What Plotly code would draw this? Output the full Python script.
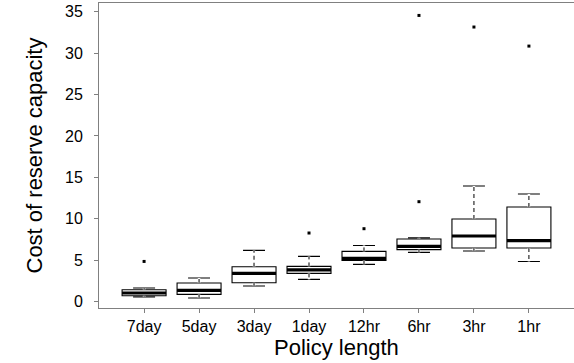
import plotly.graph_objects as go

categories = ["7day", "5day", "3day", "1day", "12hr", "6hr", "3hr", "1hr"]
lower_whisker = [0.57, 0.45, 1.89, 2.69, 4.50, 5.95, 6.12, 4.86]
q1_vals = [0.72, 0.88, 2.29, 3.42, 4.98, 6.28, 6.48, 6.48]
median_vals = [1.05, 1.37, 3.42, 3.83, 5.23, 6.68, 7.93, 7.36]
q3_vals = [1.45, 2.26, 4.22, 4.26, 6.07, 7.57, 9.98, 11.43]
upper_whisker = [1.65, 2.86, 6.19, 5.47, 6.79, 7.72, 13.96, 13.00]
outliers = [[4.86], [], [], [8.29], [8.81], [34.55, 12.07], [33.15], [30.85]]
y_ticks = [0, 5, 10, 15, 20, 25, 30, 35]

positions = list(range(1, len(categories) + 1))
BOX_W = 0.8
FONT = "Liberation Sans, Arial, sans-serif"
AXIS_GRAY = "#808080"

fig = go.Figure()

fig.add_trace(go.Box(
    x=positions, q1=q1_vals, median=median_vals, q3=q3_vals,
    lowerfence=lower_whisker, upperfence=upper_whisker,
    width=BOX_W, whiskerwidth=0.5, boxpoints=False,
    fillcolor="white", line=dict(color="black", width=1.1),
    showlegend=False, hoverinfo="skip",
))

# dashed whiskers (cover the solid ones)
wx, wy = [], []
for p, lo, a, b, hi in zip(positions, lower_whisker, q1_vals, q3_vals, upper_whisker):
    wx += [p, p, None, p, p, None]
    wy += [b, hi, None, a, lo, None]
fig.add_trace(go.Scatter(x=wx, y=wy, mode="lines",
                         line=dict(color="white", width=2.5),
                         showlegend=False, hoverinfo="skip"))
fig.add_trace(go.Scatter(x=wx, y=wy, mode="lines",
                         line=dict(color="black", width=1, dash="4px,3px"),
                         showlegend=False, hoverinfo="skip"))

# thick medians
mx, my = [], []
for p, m in zip(positions, median_vals):
    mx += [p - BOX_W / 2, p + BOX_W / 2, None]
    my += [m, m, None]
fig.add_trace(go.Scatter(x=mx, y=my, mode="lines",
                         line=dict(color="black", width=3.2),
                         showlegend=False, hoverinfo="skip"))

# outliers
ox, oy = [], []
for p, outs in zip(positions, outliers):
    for v in outs:
        ox.append(p)
        oy.append(v)
fig.add_trace(go.Scatter(x=ox, y=oy, mode="markers",
                         marker=dict(symbol="square", size=3, color="black"),
                         showlegend=False, hoverinfo="skip"))

fig.update_layout(
    width=574, height=363,
    margin=dict(l=99, r=0, t=3, b=55, autoexpand=False),
    paper_bgcolor="white", plot_bgcolor="white",
    font=dict(family=FONT, color="black", size=16),
    xaxis=dict(
        range=[0.18, 8.82], tickmode="array", tickvals=positions, ticktext=categories,
        ticks="outside", ticklen=4, tickcolor=AXIS_GRAY, tickwidth=1,
        showline=True, linecolor=AXIS_GRAY, linewidth=1, mirror=True,
        showgrid=False, zeroline=False, automargin=False,
        tickfont=dict(size=16),
    ),
    yaxis=dict(
        range=[-0.76, 36.05], tickmode="array", tickvals=y_ticks,
        ticks="outside", ticklen=4, tickcolor=AXIS_GRAY, tickwidth=1,
        showline=True, linecolor=AXIS_GRAY, linewidth=1, mirror=True,
        showgrid=False, zeroline=False, automargin=False,
        tickfont=dict(size=16), ticklabelstandoff=8,
    ),
    annotations=[
        dict(text="Policy length", xref="paper", yref="paper", x=0.5, y=0,
             xanchor="center", yanchor="top", yshift=-25, showarrow=False,
             font=dict(size=22)),
        dict(text="Cost of reserve capacity", xref="paper", yref="paper", x=0, y=0.5,
             xanchor="center", yanchor="middle", xshift=-65, textangle=-90,
             showarrow=False, font=dict(size=22)),
    ],
)

fig.write_html("out.html", config={"displayModeBar": False},
               post_script="document.body.style.margin='0';document.body.style.overflow='hidden';")
